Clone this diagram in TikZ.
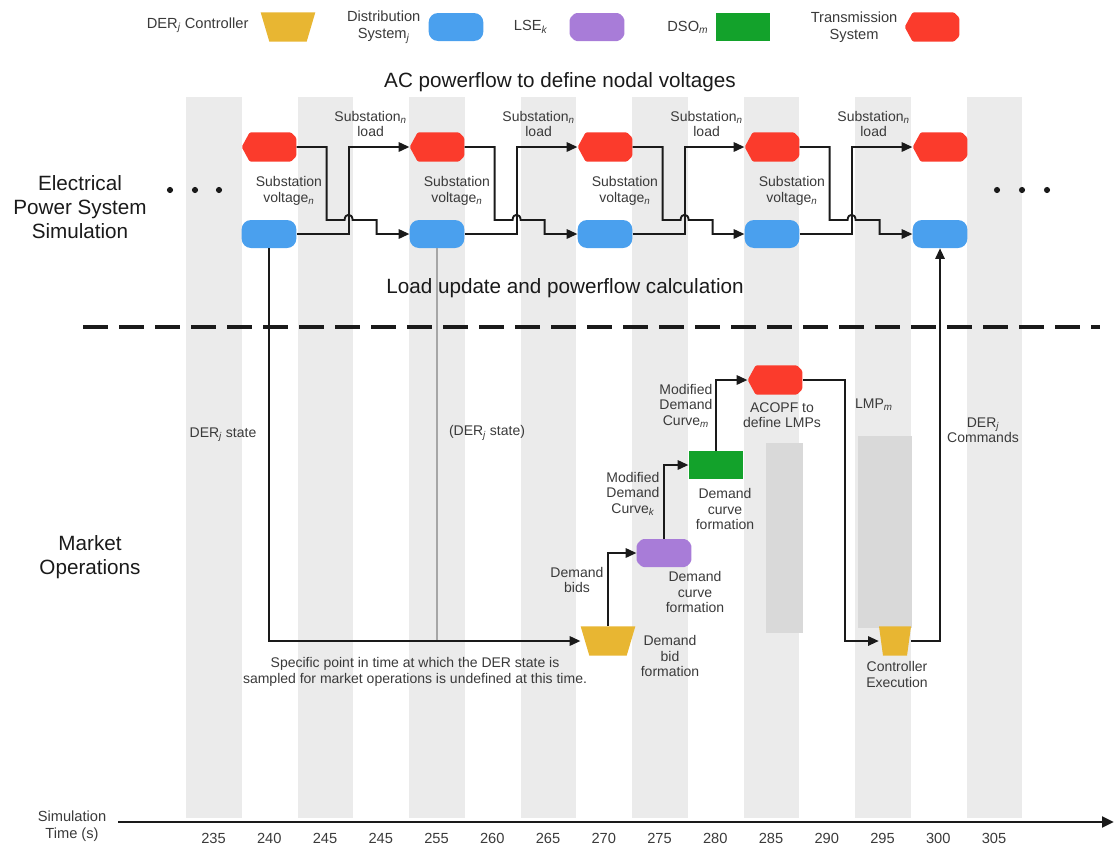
\documentclass[tikz,border=0pt]{standalone}
\usepackage{fontspec}
\setmainfont{Liberation Sans}
\usetikzlibrary{positioning,arrows.meta,calc}
\definecolor{ink}{HTML}{1A1A1A}
\definecolor{muted}{HTML}{3A3A3A}
\definecolor{stripe}{HTML}{EBEBEB}
\definecolor{darkstripe}{HTML}{D9D9D9}
\definecolor{tsred}{HTML}{FB3B2C}
\definecolor{dsblue}{HTML}{4AA0EE}
\definecolor{lsepurple}{HTML}{A87CD8}
\definecolor{dsogreen}{HTML}{13A22B}
\definecolor{ctlyellow}{HTML}{E8B632}
\newcommand{\low}[1]{\textsubscript{\itshape #1}}

\begin{document}
\begin{tikzpicture}[x=0.75pt,y=-0.75pt,
    lbl/.style={font=\fontsize{10.5}{11.5}\selectfont,text=muted,align=center,inner sep=1pt},
    key/.style={font=\fontsize{11}{13}\selectfont,text=muted,align=center,inner sep=1pt},
    big/.style={font=\fontsize{15.5}{18}\selectfont,text=ink,align=center,inner sep=0pt},
    flow/.style={line width=1.4pt,draw=ink,-{Triangle[length=8pt,width=7pt]}},
    dsnode/.style={rectangle,rounded corners=7pt,fill=dsblue,minimum width=41pt,minimum height=21pt,inner sep=0pt},
    lsenode/.style={rectangle,minimum width=41pt,minimum height=21pt,inner sep=0pt,
      path picture={\fill[lsepurple,rounded corners=1.2pt]
        ([xshift=4pt]path picture bounding box.north west)
        -- ([xshift=-4pt]path picture bounding box.north east)
        -- ([yshift=-4pt]path picture bounding box.north east)
        -- ([yshift=4pt]path picture bounding box.south east)
        -- ([xshift=-4pt]path picture bounding box.south east)
        -- ([xshift=4pt]path picture bounding box.south west)
        -- ([yshift=4pt]path picture bounding box.south west)
        -- ([yshift=-4pt]path picture bounding box.north west) -- cycle;}},
    dsonode/.style={rectangle,fill=dsogreen,minimum width=41pt,minimum height=21pt,inner sep=0pt},
    tsnode/.style={rectangle,minimum width=41pt,minimum height=22pt,inner sep=0pt,
      path picture={\fill[tsred,rounded corners=1pt]
        (path picture bounding box.west)
        -- ([xshift=6pt]path picture bounding box.north west)
        -- ([xshift=-4pt]path picture bounding box.north east)
        -- ([yshift=-4pt]path picture bounding box.north east)
        -- ([yshift=4pt]path picture bounding box.south east)
        -- ([xshift=-4pt]path picture bounding box.south east)
        -- ([xshift=6pt]path picture bounding box.south west) -- cycle;}},
    ctlnode/.style={rectangle,minimum width=41pt,minimum height=22pt,inner sep=0pt,
      path picture={\fill[ctlyellow]
        (path picture bounding box.north west)
        -- (path picture bounding box.north east)
        -- ([xshift=-#1]path picture bounding box.south east)
        -- ([xshift=#1]path picture bounding box.south west) -- cycle;}},
    ctlnode/.default=6.5pt]

  \useasboundingbox (0,0) rectangle (1116,846);

  % time columns
  \foreach \i in {0,...,7}
    \fill[stripe] ({186+111.5*\i},97) rectangle ++(55.5,721);
  \fill[darkstripe] (766,443) rectangle (803,633);
  \fill[darkstripe] (858,436) rectangle (912,628);

  % legend
  \node[key,anchor=east] (kctl) at (250,25) {DER\low{j} Controller};
  \node[ctlnode] (lgctl) at (288,27) {};
  \node[key,anchor=east] (kds) at (422,27) {Distribution\\System\low{j}};
  \node[dsnode] (lgds) at (456,27) {};
  \node[key,anchor=east] (klse) at (549,27) {LSE\low{k}};
  \node[lsenode] (lglse) at (597,27) {};
  \node[key,anchor=east] (kdso) at (710,27) {DSO\low{m}};
  \node[dsonode] (lgdso) at (743,27) {};
  \node[key,anchor=east] (kts) at (899,27) {Transmission\\System};
  \node[tsnode] (lgts) at (932,27) {};

  % electrical power system simulation
  \node[big] (acpf) at (560,82) {AC powerflow to define nodal voltages};
  \node[big] (eps) at (80,207) {Electrical\\Power System\\Simulation};
  \node[big] (load) at (565,288) {Load update and powerflow calculation};

  \foreach \k/\x in {1/269,2/437,3/605,4/772,5/940}{
    \node[tsnode] (ts\k) at (\x,147) {};
    \node[dsnode] (ds\k) at (\x,234) {};
  }

  \foreach \a/\b in {1/2,2/3,3/4,4/5}{
    \draw[flow] (ds\a.east) -- ++(52,0) |- (ts\b.west);
    \draw[flow] (ts\a.east) -| ($(ts\a.east)+(30,73)$) -- ($(ts\a.east)+(48,73)$)
      .. controls ($(ts\a.east)+(48,66)$) and ($(ts\a.east)+(56,66)$) .. ($(ts\a.east)+(56,73)$)
      -- ($(ts\a.east)+(80,73)$) |- (ds\b.west);
    \node[lbl] (sload\a) at ($(ts\a.east)+(74,-23)$) {Substation\low{n}\\load};
    \node[lbl,anchor=east] (svolt\a) at ($(ts\a.east)+(27,44)$) {Substation\\voltage\low{n}};
  }

  \foreach \x [count=\d] in {170,195,219,997,1022,1047}
    \fill[ink] (\x,190) circle (2.3pt);

  \draw[line width=2.3pt,ink,dash pattern=on 19pt off 8pt] (83,327) -- (1100,327);

  % market operations
  \node[big] (mops) at (90,557) {Market\\Operations};

  \node[ctlnode] (ctla) at (608,641) {};
  \node[lsenode] (lse) at (664,553) {};
  \node[dsonode] (dso) at (716,465) {};
  \node[tsnode] (opf) at (775,380) {};
  \node[ctlnode=3pt,minimum width=24pt] (ctlb) at (895,641) {};

  \draw[line width=1pt,draw=black!35] (ds2.south) -- (ds2.south |- ctla.west);
  \draw[flow] (ds1.south) |- (ctla.west);
  \draw[flow] (ctla.north) |- (lse.west);
  \draw[flow] (lse.north) |- (dso.west);
  \draw[flow] (dso.north) |- (opf.west);
  \draw[flow] (opf.east) -- ++(42,0) |- (ctlb.west);
  \draw[flow] (ctlb.east) -| (ds5.south);

  \node[lbl] (derst) at (223,435) {DER\low{j} state};
  \node[lbl] (derst2) at (487,433) {(DER\low{j} state)};
  \node[lbl] (undef) at (415,672) {Specific point in time at which the DER state is\\sampled for market operations is undefined at this time.};
  \node[lbl,anchor=east] (bids) at (605,580) {Demand\\bids};
  \node[lbl,anchor=north] (bidform) at (670,634) {Demand\\bid\\formation};
  \node[lbl,anchor=north] (lseform) at (695,570) {Demand\\curve\\formation};
  \node[lbl,anchor=east] (mdck) at (661,494) {Modified\\Demand\\Curve\low{k}};
  \node[lbl,anchor=north] (dsoform) at (725,487) {Demand\\curve\\formation};
  \node[lbl,anchor=east] (mdcm) at (714,406) {Modified\\Demand\\Curve\low{m}};
  \node[lbl,anchor=north] (acopf) at (782,401) {ACOPF to\\define LMPs};
  \node[lbl] (lmp) at (874,405) {LMP\low{m}};
  \node[lbl] (cmds) at (983,430) {DER\low{j}\\Commands};
  \node[lbl,anchor=north] (exec) at (897,660) {Controller\\Execution};

  % time axis
  \coordinate (axs) at (118,822);
  \coordinate (axe) at (1114,822);
  \draw[line width=2.2pt,ink,-{Triangle[length=9pt,width=8pt]}] (axs) -- (axe);
  \node[key] (simt) at (72,826) {Simulation\\Time (s)};
  \foreach \t [count=\i from 0] in {235,240,245,245,255,260,265,270,275,280,285,290,295,300,305}
    \node[key] (t\i) at ({213.5+55.75*\i},838) {\t};
\end{tikzpicture}
\end{document}
